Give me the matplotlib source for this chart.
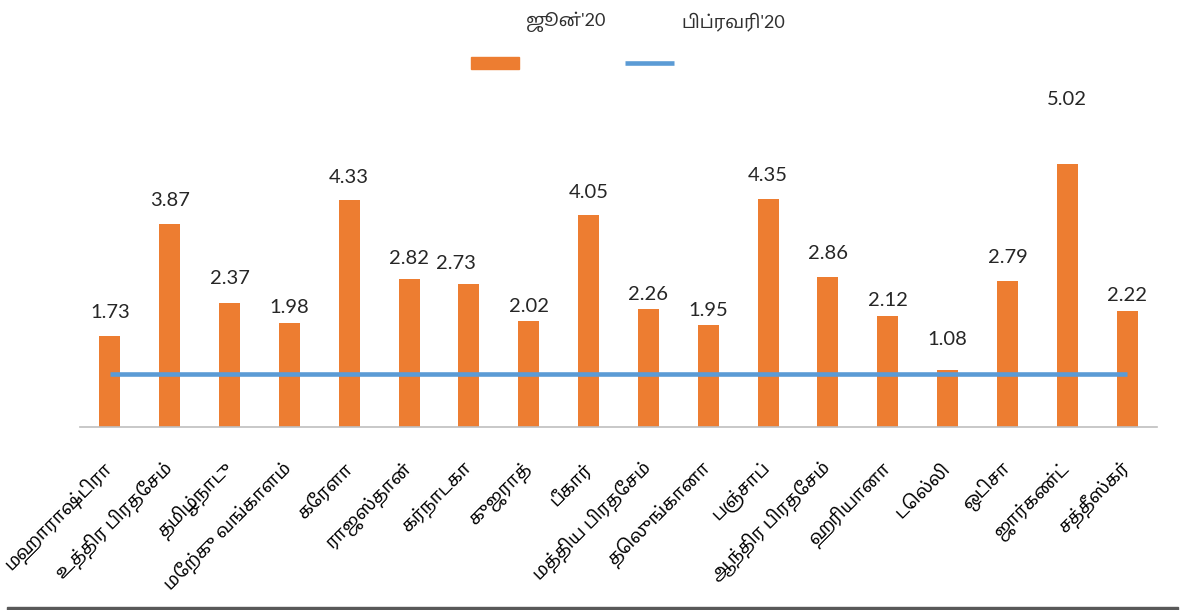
import matplotlib
matplotlib.use("Agg")
import matplotlib.pyplot as plt
from matplotlib import font_manager
from matplotlib.ft2font import FT2Font
from matplotlib.patches import Rectangle
from matplotlib.lines import Line2D

# ---------------- data ----------------
states = ["மஹாராஷ்டிரா", "உத்திர பிரதேசம்", "தமிழ்நாடு", "மேற்கு வங்காளம்", "கேரளா",
          "ராஜஸ்தான்", "கர்நாடகா", "குஜராத்", "பீகார்", "மத்திய பிரதேசம்", "தெலுங்கானா",
          "பஞ்சாப்", "ஆந்திர பிரதேசம்", "ஹரியானா", "டெல்லி", "ஒடிசா", "ஜார்கண்ட்", "சத்தீஸ்கர்"]
june20 = [1.73, 3.87, 2.37, 1.98, 4.33, 2.82, 2.73, 2.02, 4.05, 2.26, 1.95, 4.35,
          2.86, 2.12, 1.08, 2.79, 5.02, 2.22]
feb20 = [1.0] * len(states)
series_names = ["ஜூன்'20", "பிப்ரவரி'20"]

# label placement tweaks (pixels): baseline gap above bar top, horizontal shift
label_dy_px = [18, 18, 19, 10, 17, 15, 15, 9, 17, 9, 9, 18, 18, 10, 25, 18, 59, 10]
label_dx_px = [0, 0, 0, 0, 0, 0, -13, 0, 0, 0, 0, 0, 0, 0, 0, 0, 0, 0]

# ---------------- fonts ----------------
available = {f.name for f in font_manager.fontManager.ttflist}
preferred = ["Noto Sans Tamil", "Latha", "Lohit Tamil", "Noto Serif Tamil",
             "Hind Madurai", "Mukta Malar", "FreeSans"]
tamil_fams = [n for n in preferred if n in available]
if not tamil_fams:
    for f in font_manager.fontManager.ttflist:
        try:
            if 0x0B95 in FT2Font(f.fname).get_charmap():
                tamil_fams.append(f.name)
                break
        except Exception:
            pass
tamil_fams = tamil_fams[:1]
num_font = ["Lato", "DejaVu Sans"]
txt_font = ["Lato"] + tamil_fams + ["DejaVu Sans"]
plt.rcParams["font.family"] = txt_font

ORANGE = "#ED7D31"
BLUE = "#5B9BD5"
W, H, DPI = 1184, 610, 100

fig = plt.figure(figsize=(W / DPI, H / DPI), dpi=DPI)
fig.patch.set_facecolor("white")

ax_left, ax_right = 80, 1157
ax_base, px_per_unit, ymax = 426.7, 52.3, 6.0
ax = fig.add_axes([ax_left / W, (H - ax_base) / H, (ax_right - ax_left) / W,
                   ymax * px_per_unit / H])

x = list(range(len(states)))
ax.bar(x, june20, width=0.35, color=ORANGE, zorder=2)
ax.plot(x, feb20, color=BLUE, lw=3.3, solid_capstyle="butt", zorder=3)

ax.set_xlim(-0.5, len(states) - 0.5)
ax.set_ylim(0, ymax)
for s in ["top", "left", "right"]:
    ax.spines[s].set_visible(False)
ax.spines["bottom"].set_color("#BFBFBF")
ax.spines["bottom"].set_linewidth(1.2)
ax.set_yticks([])
ax.set_xticks(x)
ax.set_xticklabels(states, rotation=45, ha="right", va="center",
                   rotation_mode="anchor", fontsize=13, color="#000000")
ax.tick_params(axis="x", length=0, pad=28)

for i, v in enumerate(june20):
    ax.annotate(f"{v:.2f}", (i, v),
                xytext=(label_dx_px[i] * 72 / DPI, label_dy_px[i] * 72 / DPI),
                textcoords="offset points", ha="center", va="baseline",
                fontsize=14.5, color="#262626", family=num_font)

# legend (text above markers)
fig.text(526 / W, 1 - 22 / H, series_names[0], ha="left", va="center",
         fontsize=13, color="#303030", family=txt_font)
fig.text(681 / W, 1 - 22 / H, series_names[1], ha="left", va="center",
         fontsize=13, color="#303030", family=txt_font)
fig.add_artist(Rectangle((471 / W, 1 - 69 / H), 48 / W, 12 / H,
                         transform=fig.transFigure, color=ORANGE))
fig.add_artist(Line2D([625 / W, 674 / W], [1 - 62.5 / H, 1 - 62.5 / H],
                      transform=fig.transFigure, color=BLUE, lw=3.3,
                      solid_capstyle="butt"))

# bottom border band
fig.add_artist(Rectangle((7 / W, 0), (1178 - 7) / W, 3.5 / H,
                         transform=fig.transFigure, color="#595959"))

fig.savefig("out.png", dpi=DPI, facecolor="white")
